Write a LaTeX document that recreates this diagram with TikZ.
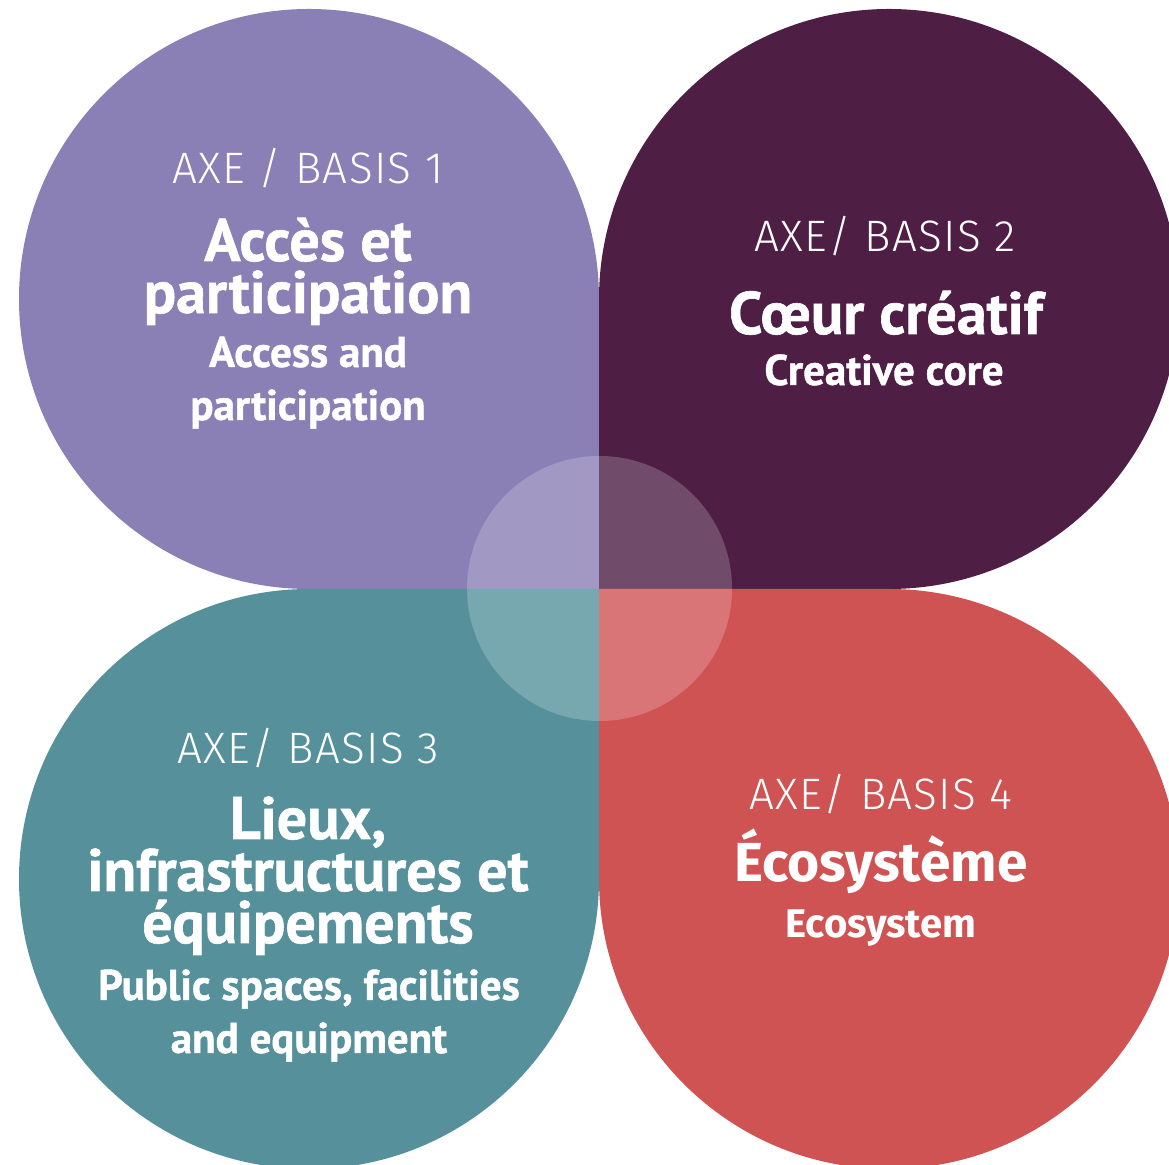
\documentclass[tikz,border=0pt]{standalone}
\usepackage{fontspec}
\newfontfamily\axefont{Fira Sans Light}[LetterSpace=3]
\newfontfamily\titlefont{PT Sans}[BoldFeatures={FakeBold=1}]
\newfontfamily\ecofont{Fira Sans}

\definecolor{petalviolet}{HTML}{8A80B6}
\definecolor{petalplum}{HTML}{4E1E45}
\definecolor{petalteal}{HTML}{56919B}
\definecolor{petalred}{HTML}{D05354}

\tikzset{
    axe/.style={text=white, anchor=base, inner sep=0pt, font=\axefont\fontsize{44}{44}\selectfont},
    bigtitle/.style={text=white, anchor=base, inner sep=0pt, align=center, font=\titlefont\bfseries\fontsize{60}{52}\selectfont},
    smalltitle/.style={text=white, anchor=base, inner sep=0pt, align=center, font=\titlefont\bfseries\fontsize{43}{53}\selectfont},
    bigeco/.style={text=white, anchor=base, inner sep=0pt, font=\ecofont\bfseries\fontsize{55}{55}\selectfont},
    smalleco/.style={text=white, anchor=base, inner sep=0pt, font=\ecofont\bfseries\fontsize{40}{40}\selectfont},
}

\begin{document}
\begin{tikzpicture}[x=1pt, y=1pt]
    \useasboundingbox (0,0) rectangle (1169,1164);
    \clip (0,0) rectangle (1169,1164);
    % four petals, square corner at the middle
    \fill[petalviolet](599,575)--(599,865)arc[start angle=0, end angle=270, radius=290]--cycle;
    \fill[petalplum](599,575)--(889,575)arc[start angle=-90, end angle=180, radius=290]--cycle;
    \fill[petalteal](599,575)--(309,575)arc[start angle=90, end angle=360, radius=290]--cycle;
    \fill[petalred](599,575)--(599,285)arc[start angle=180, end angle=450, radius=290]--cycle;
    \fill[white, fill opacity=0.2](599.5,575.5)circle[radius=132.5];

    % axe 1 (base = last line)
    \node[axe] (axe1) at (308,980) {AXE / BASIS 1};
    \node[bigtitle] (fr1) at (308,851) {Accès et\\participation};
    \node[smalltitle] (en1) at (308,744) {Access and\\participation};

    % axe 2
    \node[axe] (axe2) at (885,912) {AXE/ BASIS 2};
    \node[bigtitle] (fr2) at (886,830) {Cœur créatif};
    \node[smalltitle] (en2) at (884,779) {Creative core};

    % axe 3
    \node[axe] (axe3) at (308,400) {AXE/ BASIS 3};
    \node[bigtitle] (fr3) at (308,221) {Lieux,\\infrastructures et\\équipements};
    \node[smalltitle] (en3) at (309,111) {Public spaces, facilities\\and equipment};

    % axe 4
    \node[axe] (axe4) at (881,354) {AXE/ BASIS 4};
    \node[bigeco] (fr4) at (881,282) {Écosystème};
    \node[smalleco] (en4) at (881,226) {Ecosystem};
\end{tikzpicture}
\end{document}
